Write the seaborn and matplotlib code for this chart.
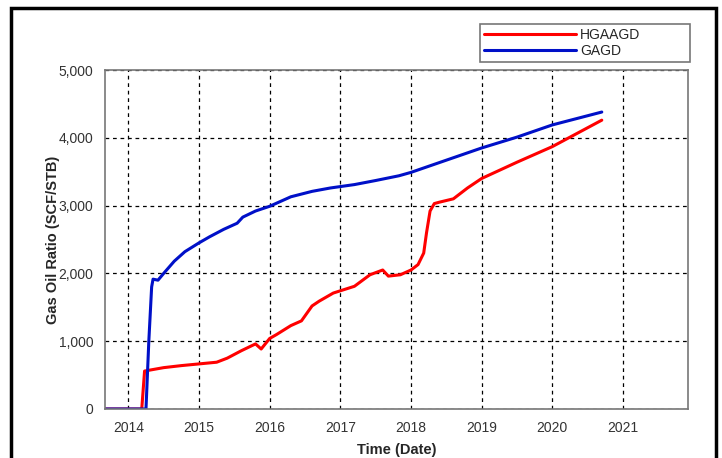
import matplotlib
matplotlib.use("Agg")
import matplotlib.pyplot as plt
import matplotlib.ticker as mticker
from matplotlib.patches import Rectangle
import seaborn as sns
import pandas as pd

sns.set_style("white")
plt.rcParams['font.family'] = ['Liberation Sans', 'DejaVu Sans']

# Gas oil ratio readings (time in decimal years)
hgaagd_t = [2013.67, 2014.19, 2014.23, 2014.5, 2014.75, 2015.0, 2015.25, 2015.4,
            2015.6, 2015.8, 2015.88, 2016.0, 2016.1, 2016.3, 2016.45, 2016.6,
            2016.7, 2016.9, 2017.2, 2017.42, 2017.6, 2017.68, 2017.85, 2018.0,
            2018.1, 2018.18, 2018.22, 2018.27, 2018.33, 2018.4, 2018.6, 2018.8,
            2019.0, 2019.5, 2020.0, 2020.7]
hgaagd_gor = [0, 0, 560, 610, 640, 665, 690, 750,
              860, 960, 885, 1040, 1100, 1230, 1300, 1520,
              1590, 1710, 1810, 1980, 2050, 1960, 1980, 2050,
              2130, 2300, 2600, 2920, 3030, 3050, 3100, 3260,
              3400, 3640, 3870, 4260]

gagd_t = [2013.67, 2014.25, 2014.29, 2014.33, 2014.35, 2014.42, 2014.5, 2014.65,
          2014.8, 2015.0, 2015.15, 2015.35, 2015.54, 2015.62, 2015.8, 2016.0,
          2016.3, 2016.6, 2016.86, 2017.2, 2017.5, 2017.83, 2018.0, 2018.5,
          2019.0, 2019.5, 2020.0, 2020.7]
gagd_gor = [0, 0, 1000, 1800, 1915, 1900, 2000, 2180,
            2320, 2450, 2540, 2650, 2740, 2830, 2920, 2990,
            3130, 3210, 3260, 3310, 3370, 3440, 3490, 3670,
            3850, 4010, 4190, 4380]

year_ticks = [2014, 2015, 2016, 2017, 2018, 2019, 2020, 2021]
gor_ticks = [0, 1000, 2000, 3000, 4000, 5000]

df_red = pd.DataFrame({'t': hgaagd_t, 'gor': hgaagd_gor})
df_blue = pd.DataFrame({'t': gagd_t, 'gor': gagd_gor})

fig = plt.figure(figsize=(7.22, 4.58), dpi=100)
ax = fig.add_axes([105 / 722, 49 / 458, 583 / 722, 339 / 458])

sns.lineplot(data=df_red, x='t', y='gor', color='#FF0000', linewidth=2.2,
             label='HGAAGD', ax=ax)
sns.lineplot(data=df_blue, x='t', y='gor', color='#0010C8', linewidth=2.2,
             label='GAGD', ax=ax)

ax.set_xlim(2013.67, 2021.92)
ax.set_ylim(0, 5000)
ax.set_xticks(year_ticks)
ax.set_yticks(gor_ticks)
ax.yaxis.set_major_formatter(mticker.FuncFormatter(lambda v, p: f"{int(v):,}"))
ax.grid(True, color='black', linestyle=(0, (3, 3)), linewidth=0.9)
for s in ax.spines.values():
    s.set_color('#777777')
    s.set_linewidth(1.2)
ax.tick_params(axis='both', direction='out', length=5, color='#555555',
               labelsize=10, labelcolor='#333333', width=1)
ax.set_xlabel("Time (Date)", fontsize=10.5, fontweight='bold', labelpad=6)
ax.set_ylabel("Gas Oil Ratio (SCF/STB)", fontsize=10.5, fontweight='bold', labelpad=-1)

# legend box sits above the plot, spanning x 480..690 px
leg = ax.legend(loc='upper left',
                bbox_to_anchor=(480 / 722, 1 - 64 / 458, 210 / 722, 40 / 458),
                bbox_transform=fig.transFigure, mode='expand', frameon=True,
                fancybox=False, fontsize=10, handlelength=6.6, handletextpad=0.3,
                borderpad=0.3, labelspacing=0.1, borderaxespad=0)
leg.get_frame().set_edgecolor('#555555')
leg.get_frame().set_linewidth(1.2)

# outer black frame
fig.patches.append(Rectangle((11 / 722, -0.05), 705 / 722, 1 - 8 / 458 + 0.05,
                             transform=fig.transFigure, fill=False,
                             edgecolor='black', linewidth=2.5))

fig.savefig("out.png", dpi=100)
